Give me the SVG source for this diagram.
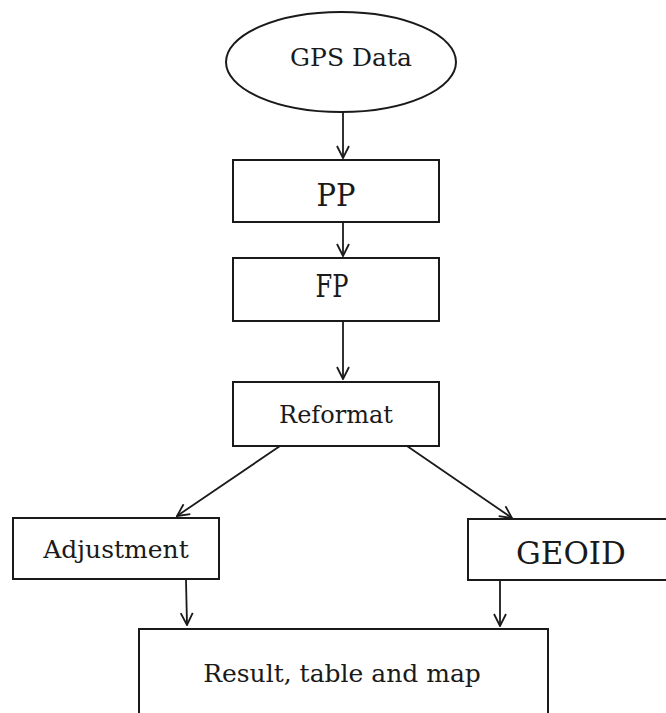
<svg xmlns="http://www.w3.org/2000/svg" width="666" height="713" viewBox="0 0 666 713">
<style>
.box{fill:#fff;stroke:#1a1a1a;stroke-width:2}
.lbl{font-family:"DejaVu Serif","Liberation Serif",serif;fill:#1a1a1a;text-anchor:middle}
.conn{fill:none;stroke:#1a1a1a;stroke-width:1.8}
</style>
<defs>
<marker id="arr" viewBox="0 0 14 14" refX="13" refY="7" markerWidth="14" markerHeight="14" markerUnits="userSpaceOnUse" orient="auto">
<path d="M1,1 L13,7 L1,13" fill="none" stroke="#1a1a1a" stroke-width="1.8"/>
</marker>
</defs>
<rect width="666" height="713" fill="#fff"/>
<g id="gps">
<ellipse class="box" cx="341" cy="62" rx="115" ry="50"/>
<text class="lbl" x="351" y="66" font-size="25">GPS Data</text>
</g>
<g id="pp">
<rect class="box" x="233" y="160" width="206" height="62"/>
<text class="lbl" x="336" y="206" font-size="31" textLength="39" lengthAdjust="spacingAndGlyphs">PP</text>
</g>
<g id="fp">
<rect class="box" x="233" y="258" width="206" height="63"/>
<text class="lbl" x="332" y="297" font-size="31" textLength="33" lengthAdjust="spacingAndGlyphs">FP</text>
</g>
<g id="reformat">
<rect class="box" x="233" y="382" width="206" height="64"/>
<text class="lbl" x="336" y="423" font-size="24">Reformat</text>
</g>
<g id="adjustment">
<rect class="box" x="13" y="518" width="206" height="61"/>
<text class="lbl" x="116" y="558" font-size="25">Adjustment</text>
</g>
<g id="geoid">
<rect class="box" x="468" y="519" width="210" height="61"/>
<text class="lbl" x="571" y="564" font-size="31">GEOID</text>
</g>
<g id="result">
<rect class="box" x="139" y="629" width="409" height="100"/>
<text class="lbl" x="342" y="682" font-size="25">Result, table and map</text>
</g>
<g id="connectors">
<line class="conn" x1="343" y1="112" x2="343" y2="158" marker-end="url(#arr)"/>
<line class="conn" x1="343" y1="222" x2="343" y2="256" marker-end="url(#arr)"/>
<line class="conn" x1="343" y1="321" x2="343" y2="379" marker-end="url(#arr)"/>
<line class="conn" x1="280" y1="446" x2="177" y2="516" marker-end="url(#arr)"/>
<line class="conn" x1="407" y1="446" x2="512" y2="518" marker-end="url(#arr)"/>
<line class="conn" x1="186" y1="580" x2="187" y2="625" marker-end="url(#arr)"/>
<line class="conn" x1="500" y1="581" x2="500" y2="626" marker-end="url(#arr)"/>
</g>
</svg>
